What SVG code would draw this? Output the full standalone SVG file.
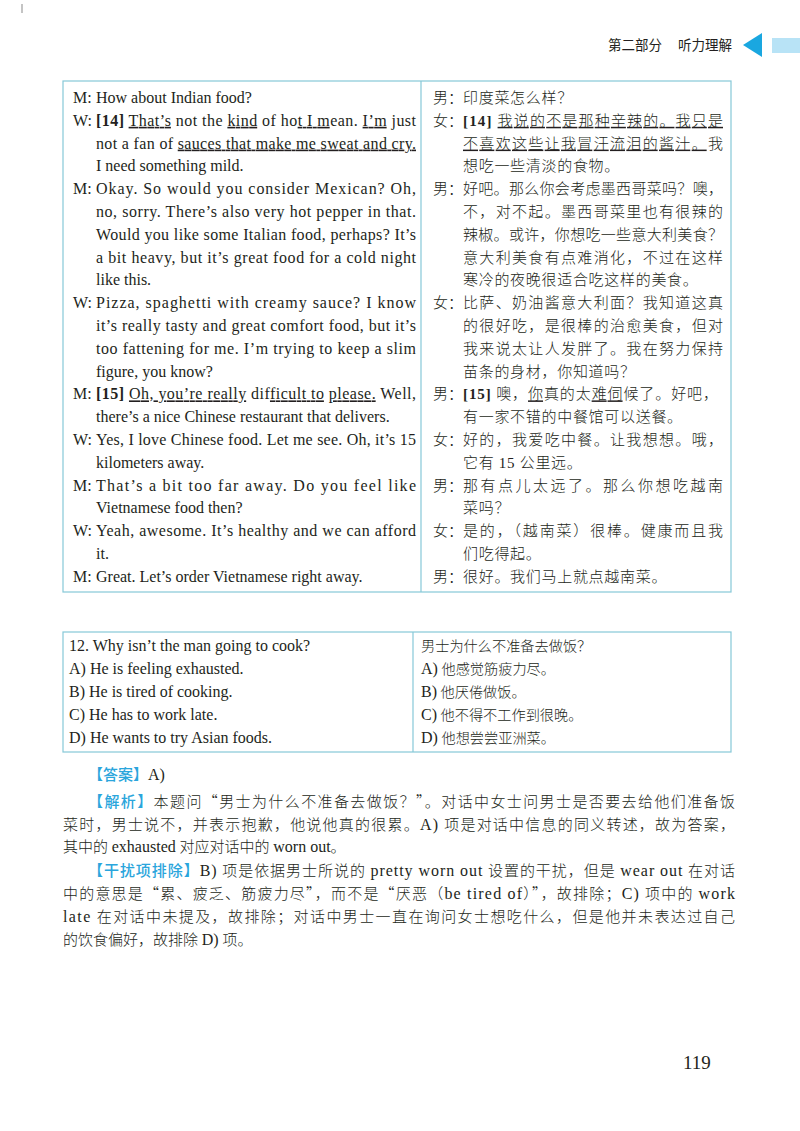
<svg xmlns="http://www.w3.org/2000/svg" width="800" height="1131" viewBox="0 0 800 1131">
<defs>
<style>
.bg{fill:#ffffff}
.en{font-family:"Liberation Serif","Noto Sans CJK SC",serif;font-size:16px;fill:#231f20}
.zh{font-family:"Liberation Serif","Noto Sans CJK SC",serif;font-size:15px;fill:#231f20;font-weight:300}
.zs{letter-spacing:0.7px}
.qz{font-family:"Liberation Serif","Noto Sans CJK SC",serif;font-size:14.2px;fill:#231f20;font-weight:300}
.lat{font-size:16px}
.p{font-family:"Liberation Serif","Noto Sans CJK SC",serif;font-size:15px;fill:#231f20;font-weight:300}
.cjk{font-family:"Noto Sans CJK SC",sans-serif}
.b{font-family:"Liberation Serif",serif;font-weight:bold}
.u{text-decoration:underline}
.tag{font-family:"Noto Sans CJK SC",sans-serif;fill:#2aa5dc;font-weight:500}
.hd{font-family:"Noto Sans CJK SC",sans-serif;font-size:13.5px;fill:#231f20}
.frame{fill:none;stroke:#86c8d8;stroke-width:1.2}
.div{stroke:#86c8d8;stroke-width:1.2}
</style>
</defs>
<rect class="bg" x="0" y="0" width="800" height="1131"/>
<rect x="21" y="4" width="2" height="9" fill="#c4c4c4"/>

<g id="header">
<text class="hd" x="608" y="50">第二部分</text>
<text class="hd" x="678" y="50">听力理解</text>
<polygon points="743,45 762,33 762,57" fill="#1aa7e0"/>
<rect x="772" y="38" width="28" height="15" fill="#b8e3f6"/>
</g>

<g id="dialogue-table">
<rect class="frame" x="63" y="81" width="668" height="511"/>
<line class="div" x1="421" y1="81" x2="421" y2="592"/>
<g id="dialogue-en" class="en">
<text x="73" y="103">M:</text><text x="96" y="103">How about Indian food?</text>
<text x="73" y="125.8">W:</text><text x="96" y="125.8" textLength="320" lengthAdjust="spacing"><tspan class="b">[14]</tspan> <tspan class="u">That’s</tspan> not the <tspan class="u">kind</tspan> of ho<tspan class="u">t I m</tspan>ean. <tspan class="u">I’m</tspan> just</text>
<text x="96" y="148.6" textLength="320" lengthAdjust="spacing">not a fan of <tspan class="u">sauces that make me sweat and cry.</tspan></text>
<text x="96" y="171.4">I need something mild.</text>
<text x="73" y="194.2">M:</text><text x="96" y="194.2" textLength="320" lengthAdjust="spacing">Okay. So would you consider Mexican? Oh,</text>
<text x="96" y="217" textLength="320" lengthAdjust="spacing">no, sorry. There’s also very hot pepper in that.</text>
<text x="96" y="239.8" textLength="320" lengthAdjust="spacing">Would you like some Italian food, perhaps? It’s</text>
<text x="96" y="262.6" textLength="320" lengthAdjust="spacing">a bit heavy, but it’s great food for a cold night</text>
<text x="96" y="285.4">like this.</text>
<text x="73" y="308.2">W:</text><text x="96" y="308.2" textLength="320" lengthAdjust="spacing">Pizza, spaghetti with creamy sauce? I know</text>
<text x="96" y="331" textLength="320" lengthAdjust="spacing">it’s really tasty and great comfort food, but it’s</text>
<text x="96" y="353.8" textLength="320" lengthAdjust="spacing">too fattening for me. I’m trying to keep a slim</text>
<text x="96" y="376.6">figure, you know?</text>
<text x="73" y="399.4">M:</text><text x="96" y="399.4" textLength="320" lengthAdjust="spacing"><tspan class="b">[15]</tspan> <tspan class="u">Oh, you’re really</tspan> dif<tspan class="u">ficult to</tspan> <tspan class="u">please.</tspan> Well,</text>
<text x="96" y="422.2">there’s a nice Chinese restaurant that delivers.</text>
<text x="73" y="445">W:</text><text x="96" y="445" textLength="320" lengthAdjust="spacing">Yes, I love Chinese food. Let me see. Oh, it’s 15</text>
<text x="96" y="467.8">kilometers away.</text>
<text x="73" y="490.6">M:</text><text x="96" y="490.6" textLength="320" lengthAdjust="spacing">That’s a bit too far away. Do you feel like</text>
<text x="96" y="513.4">Vietnamese food then?</text>
<text x="73" y="536.2">W:</text><text x="96" y="536.2" textLength="320" lengthAdjust="spacing">Yeah, awesome. It’s healthy and we can afford</text>
<text x="96" y="559">it.</text>
<text x="73" y="581.8">M:</text><text x="96" y="581.8">Great. Let’s order Vietnamese right away.</text>
</g>
<g id="dialogue-zh" class="zh">
<text x="433" y="103">男：</text><text class="zs" x="463" y="103">印度菜怎么样？</text>
<text x="433" y="125.8">女：</text><text x="463" y="125.8" textLength="260" lengthAdjust="spacing"><tspan class="b">[14]</tspan> <tspan class="u">我说的不是那种辛辣的。我只是</tspan></text>
<text x="463" y="148.6" textLength="260" lengthAdjust="spacing"><tspan class="u">不喜欢这些让我冒汗流泪的酱汁。</tspan>我</text>
<text class="zs" x="463" y="171.4">想吃一些清淡的食物。</text>
<text x="433" y="194.2">男：</text><text x="463" y="194.2" textLength="260" lengthAdjust="spacing">好吧。那么你会考虑墨西哥菜吗？噢，</text>
<text x="463" y="217" textLength="260" lengthAdjust="spacing">不，对不起。墨西哥菜里也有很辣的</text>
<text x="463" y="239.8" textLength="260" lengthAdjust="spacing">辣椒。或许，你想吃一些意大利美食？</text>
<text x="463" y="262.6" textLength="260" lengthAdjust="spacing">意大利美食有点难消化，不过在这样</text>
<text class="zs" x="463" y="285.4">寒冷的夜晚很适合吃这样的美食。</text>
<text x="433" y="308.2">女：</text><text x="463" y="308.2" textLength="260" lengthAdjust="spacing">比萨、奶油酱意大利面？我知道这真</text>
<text x="463" y="331" textLength="260" lengthAdjust="spacing">的很好吃，是很棒的治愈美食，但对</text>
<text x="463" y="353.8" textLength="260" lengthAdjust="spacing">我来说太让人发胖了。我在努力保持</text>
<text class="zs" x="463" y="376.6">苗条的身材，你知道吗？</text>
<text x="433" y="399.4">男：</text><text x="463" y="399.4" textLength="255" lengthAdjust="spacing"><tspan class="b">[15]</tspan> 噢，<tspan class="u">你</tspan>真的太<tspan class="u">难伺</tspan>候了。好吧，</text>
<text class="zs" x="463" y="422.2">有一家不错的中餐馆可以送餐。</text>
<text x="433" y="445">女：</text><text x="463" y="445" textLength="260" lengthAdjust="spacing">好的，我爱吃中餐。让我想想。哦，</text>
<text class="zs" x="463" y="467.8">它有 15 公里远。</text>
<text x="433" y="490.6">男：</text><text x="463" y="490.6" textLength="260" lengthAdjust="spacing">那有点儿太远了。那么你想吃越南</text>
<text class="zs" x="463" y="513.4">菜吗？</text>
<text x="433" y="536.2">女：</text><text x="463" y="536.2" textLength="260" lengthAdjust="spacing">是的，（越南菜）很棒。健康而且我</text>
<text class="zs" x="463" y="559">们吃得起。</text>
<text x="433" y="581.8">男：</text><text class="zs" x="463" y="581.8">很好。我们马上就点越南菜。</text>
</g>
</g>

<g id="question-table">
<rect class="frame" x="63" y="632" width="668" height="120"/>
<line class="div" x1="413" y1="632" x2="413" y2="752"/>
<g class="en">
<text x="69" y="651">12. Why isn’t the man going to cook?</text>
<text x="69" y="674">A) He is feeling exhausted.</text>
<text x="69" y="697">B) He is tired of cooking.</text>
<text x="69" y="720">C) He has to work late.</text>
<text x="69" y="743">D) He wants to try Asian foods.</text>
</g>
<g class="qz">
<text x="421" y="651">男士为什么不准备去做饭？</text>
<text x="421" y="674"><tspan class="lat">A)</tspan> 他感觉筋疲力尽。</text>
<text x="421" y="697"><tspan class="lat">B)</tspan> 他厌倦做饭。</text>
<text x="421" y="720"><tspan class="lat">C)</tspan> 他不得不工作到很晚。</text>
<text x="421" y="743"><tspan class="lat">D)</tspan> 他想尝尝亚洲菜。</text>
</g>
</g>

<g id="explanation" class="p">
<text x="88" y="780"><tspan class="tag">【答案】</tspan><tspan class="lat">A)</tspan></text>
<text x="88" y="807" textLength="647" lengthAdjust="spacing"><tspan class="tag">【解析】</tspan>本题问<tspan class="cjk">“</tspan>男士为什么不准备去做饭？<tspan class="cjk">”</tspan>。对话中女士问男士是否要去给他们准备饭</text>
<text x="63" y="829.5" textLength="672" lengthAdjust="spacing">菜时，男士说不，并表示抱歉，他说他真的很累。<tspan class="lat">A)</tspan> 项是对话中信息的同义转述，故为答案，</text>
<text x="63" y="852">其中的 <tspan class="lat">exhausted</tspan> 对应对话中的 <tspan class="lat">worn out</tspan>。</text>
<text x="88" y="876" textLength="647" lengthAdjust="spacing"><tspan class="tag">【干扰项排除】</tspan><tspan class="lat">B)</tspan> 项是依据男士所说的 <tspan class="lat">pretty worn out</tspan> 设置的干扰，但是 <tspan class="lat">wear out</tspan> 在对话</text>
<text x="63" y="899" textLength="672" lengthAdjust="spacing">中的意思是<tspan class="cjk">“</tspan>累、疲乏、筋疲力尽<tspan class="cjk">”</tspan>，而不是<tspan class="cjk">“</tspan>厌恶（<tspan class="lat">be tired of</tspan>）<tspan class="cjk">”</tspan>，故排除；<tspan class="lat">C)</tspan> 项中的 <tspan class="lat">work</tspan></text>
<text x="63" y="922" textLength="672" lengthAdjust="spacing"><tspan class="lat">late</tspan> 在对话中未提及，故排除；对话中男士一直在询问女士想吃什么，但是他并未表达过自己</text>
<text x="63" y="945">的饮食偏好，故排除 <tspan class="lat">D)</tspan> 项。</text>
</g>

<text x="683" y="1069" style="font-family:'Liberation Serif',serif;font-size:19px;fill:#231f20">119</text>
</svg>
